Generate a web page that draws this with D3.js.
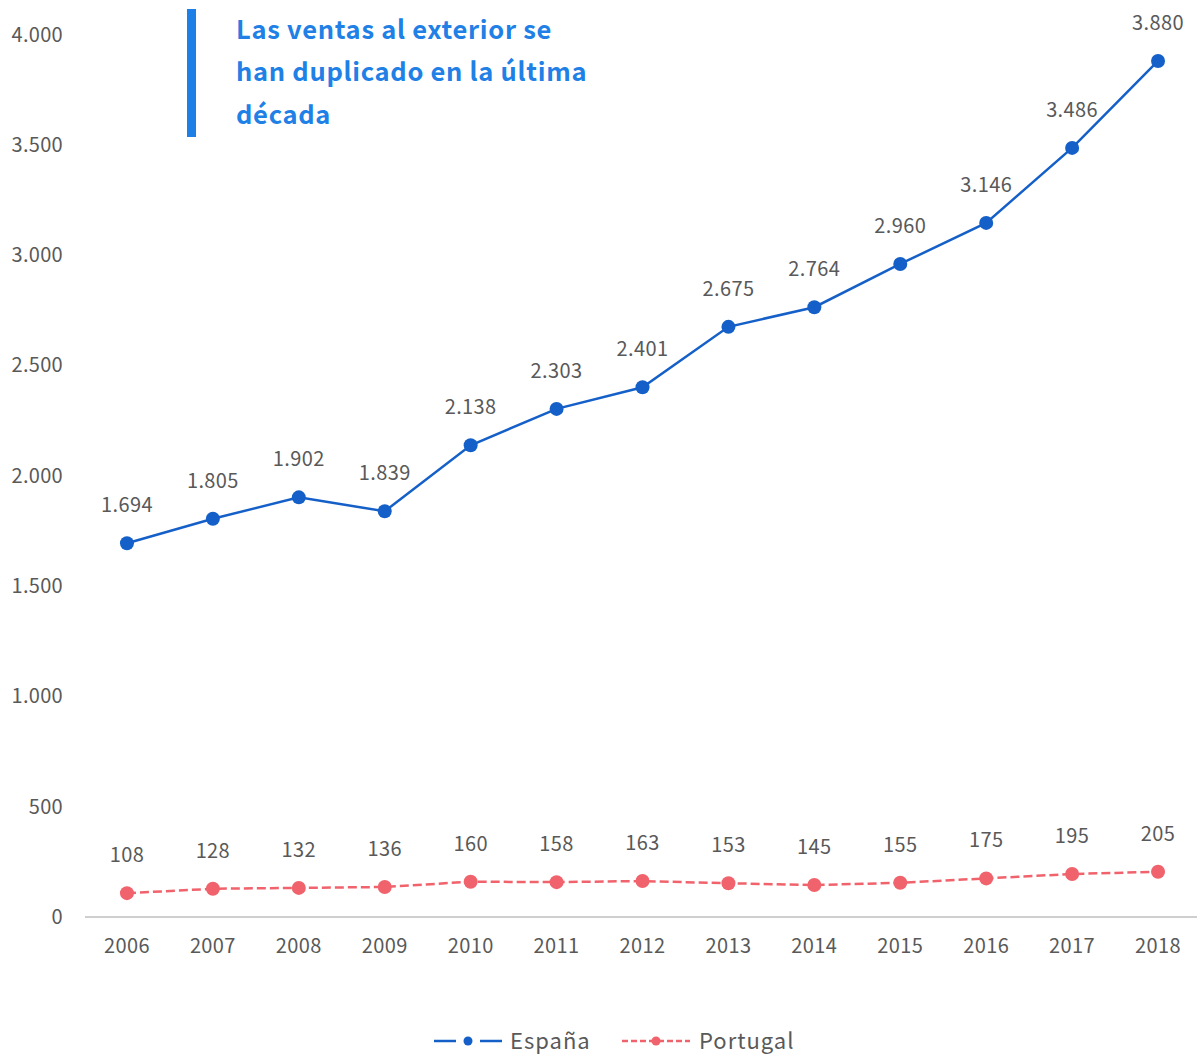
<!DOCTYPE html>
<html>
<head>
<meta charset="utf-8">
<script src="https://cdn.jsdelivr.net/npm/d3@7"></script>
<style>
  html, body { margin: 0; padding: 0; background: #fff; }
  svg { display: block; font-family: "Noto Sans CJK JP", "Noto Sans", sans-serif; }
</style>
</head>
<body>
<svg id="chart" width="1197" height="1055"></svg>
<script>
// Export sales (millions) by year
const years = ["2006","2007","2008","2009","2010","2011","2012","2013","2014","2015","2016","2017","2018"];
const espana = [1694, 1805, 1902, 1839, 2138, 2303, 2401, 2675, 2764, 2960, 3146, 3486, 3880];
const portugal = [108, 128, 132, 136, 160, 158, 163, 153, 145, 155, 175, 195, 205];
const yTicks = [0, 500, 1000, 1500, 2000, 2500, 3000, 3500, 4000];
const titleLines = ["Las ventas al exterior se", "han duplicado en la última", "década"];

const series = [
  { name: "España", values: espana, color: "#1560c8", dash: null },
  { name: "Portugal", values: portugal, color: "#f0636c", dash: "9,4" }
];

const fmt = v => d3.format(",")(v).replace(/,/g, ".");

const svg = d3.select("#chart");
const plotLeft = 85, plotRight = 1197, plotTop = 34.5, plotBottom = 917;

const x = d3.scaleBand().domain(years).range([84, 1201]);
const y = d3.scaleLinear().domain([0, 4000]).range([plotBottom, plotTop]);
const cx = d => x(d) + x.bandwidth() / 2;

// Y axis labels (no axis line)
svg.append("g").selectAll("text").data(yTicks).join("text")
  .attr("x", 63).attr("y", d => y(d)).attr("dy", "0.35em")
  .attr("text-anchor", "end").attr("font-size", 20).attr("fill", "#595959")
  .attr("letter-spacing", 0.3)
  .text(fmt);

// Baseline
svg.append("line").attr("x1", plotLeft).attr("x2", plotRight)
  .attr("y1", y(0)).attr("y2", y(0))
  .attr("stroke", "#bfbfbf").attr("stroke-width", 1.3);

// X axis labels
svg.append("g").selectAll("text").data(years).join("text")
  .attr("x", d => cx(d)).attr("y", 946).attr("dy", "0.35em")
  .attr("text-anchor", "middle").attr("font-size", 20).attr("fill", "#595959")
  .attr("letter-spacing", 0.4)
  .text(d => d);

const line = d3.line().x((d, i) => cx(years[i])).y(d => y(d));

series.forEach(s => {
  const g = svg.append("g");
  g.append("path").datum(s.values)
    .attr("d", line).attr("fill", "none")
    .attr("stroke", s.color).attr("stroke-width", 2.5)
    .attr("stroke-dasharray", s.dash);
  g.selectAll("circle").data(s.values).join("circle")
    .attr("cx", (d, i) => cx(years[i])).attr("cy", d => y(d))
    .attr("r", 7).attr("fill", s.color);
  g.selectAll("text").data(s.values).join("text")
    .attr("x", (d, i) => cx(years[i])).attr("y", d => y(d) - 38)
    .attr("dy", "0.35em")
    .attr("text-anchor", "middle").attr("font-size", 20).attr("fill", "#595959")
    .attr("letter-spacing", 0.4)
    .text(fmt);
});

// Headline annotation
svg.append("rect").attr("x", 187).attr("y", 9).attr("width", 9).attr("height", 128)
  .attr("fill", "#1e7fe6");
svg.append("g").selectAll("text").data(titleLines).join("text")
  .attr("x", 236).attr("y", (d, i) => 30 + i * 42.5).attr("dy", "0.35em")
  .attr("font-size", 25.5).attr("font-weight", "bold").attr("fill", "#2080e6")
  .attr("letter-spacing", 0.7)
  .text(d => d);

// Legend
const legend = svg.append("g").attr("transform", "translate(0,1041)");
const items = [
  { s: series[0], x0: 434, tx: 510 },
  { s: series[1], x0: 622, tx: 699 }
];
items.forEach(({ s, x0, tx }) => {
  legend.append("line").attr("x1", x0).attr("x2", x0 + 68)
    .attr("y1", 0).attr("y2", 0)
    .attr("stroke", s.color).attr("stroke-width", 2.5)
    .attr("stroke-dasharray", s.dash ? "6,3" : "22,24");
  legend.append("circle").attr("cx", x0 + 34).attr("cy", 0).attr("r", 4.5).attr("fill", s.color);
  legend.append("text").attr("x", tx).attr("y", 0).attr("dy", "0.35em")
    .attr("font-size", 22).attr("fill", "#595959").attr("letter-spacing", 1)
    .text(s.name);
});
</script>
</body>
</html>
